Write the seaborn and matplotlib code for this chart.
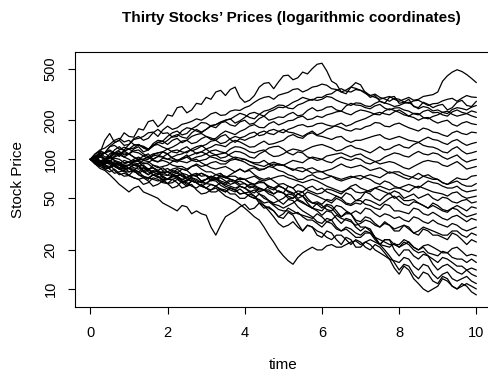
import numpy as np
import pandas as pd
import matplotlib
matplotlib.use("Agg")
import matplotlib.pyplot as plt
import seaborn as sns

# Sampling grid (years) shared by every price path
times = np.arange(81) * 0.125

# Price paths of the thirty stocks, one list per stock
s01 = [100, 98, 112, 140, 158, 135, 140, 160, 150, 148, 172, 168, 195, 200, 178, 192, 220, 215, 250, 255,
       228, 240, 270, 265, 300, 290, 330, 340, 310, 345, 360, 300, 275, 285, 310, 360, 385, 390, 350, 395,
       440, 445, 410, 425, 470, 455, 500, 540, 550, 480, 400, 380, 330, 320, 360, 390, 375, 325, 300, 310,
       280, 270, 300, 305, 270, 275, 290, 255, 250, 275, 265, 250, 260, 265, 240, 250, 275, 285, 260, 255, 280]
s02 = [100, 104, 95, 98, 110, 112, 105, 116, 120, 122, 130, 124, 118, 128, 135, 132, 140, 150, 155, 148,
       145, 160, 170, 162, 170, 182, 185, 194, 200, 205, 190, 198, 210, 225, 230, 222, 215, 232, 240, 252,
       250, 260, 275, 285, 300, 292, 285, 300, 300, 315, 320, 340, 350, 335, 330, 345, 340, 322, 310, 300,
       290, 298, 305, 290, 280, 290, 300, 285, 290, 305, 310, 315, 330, 400, 440, 470, 490, 475, 450, 420, 390]
s03 = [100, 102, 115, 112, 125, 128, 120, 118, 130, 142, 145, 150, 160, 162, 150, 168, 180, 170, 175, 186,
       190, 196, 205, 200, 210, 224, 230, 218, 220, 235, 240, 238, 250, 258, 275, 290, 300, 305, 290, 312,
       320, 328, 345, 350, 330, 342, 360, 366, 380, 372, 350, 345, 330, 342, 360, 352, 340, 330, 310, 318,
       300, 292, 280, 295, 290, 276, 270, 282, 285, 272, 260, 268, 270, 282, 290, 295, 280, 296, 310, 302, 300]
s04 = [100, 96, 108, 100, 96, 106, 112, 104, 110, 120, 125, 114, 118, 132, 140, 138, 150, 160, 165, 154,
       158, 172, 180, 192, 190, 180, 175, 190, 200, 204, 215, 226, 220, 210, 205, 222, 235, 240, 250, 262,
       260, 248, 245, 262, 270, 282, 290, 284, 290, 305, 300, 285, 275, 268, 260, 272, 270, 258, 255, 270,
       280, 272, 265, 255, 260, 270, 275, 258, 245, 255, 250, 236, 240, 230, 225, 242, 250, 246, 240, 252, 260]
s05 = [100, 110, 115, 112, 125, 134, 140, 128, 130, 144, 150, 140, 145, 160, 170, 158, 160, 148, 150, 166,
       175, 172, 165, 160, 170, 180, 185, 192, 195, 184, 180, 194, 200, 186, 190, 206, 215, 200, 205, 212,
       210, 222, 230, 216, 220, 238, 250, 236, 240, 252, 255, 240, 235, 258, 270, 262, 260, 250, 245, 258,
       265, 248, 240, 248, 250, 240, 235, 224, 220, 234, 240, 228, 230, 220, 215, 232, 240, 230, 225, 236, 230]
s06 = [100, 97, 92, 86, 85, 92, 95, 88, 90, 96, 100, 106, 110, 100, 105, 114, 120, 124, 130, 138,
       140, 132, 135, 144, 150, 142, 145, 156, 165, 160, 155, 164, 170, 180, 185, 176, 175, 188, 195, 184,
       190, 198, 200, 210, 215, 202, 205, 215, 210, 220, 225, 232, 235, 226, 220, 232, 240, 236, 230, 222,
       220, 236, 245, 238, 230, 220, 215, 226, 225, 210, 205, 214, 220, 230, 235, 222, 215, 220, 225, 216, 210]
s07 = [100, 106, 112, 104, 105, 118, 125, 116, 120, 128, 130, 122, 118, 126, 135, 138, 130, 140, 145, 134,
       140, 150, 155, 158, 150, 146, 140, 150, 155, 142, 135, 144, 140, 146, 150, 160, 165, 158, 155, 164,
       170, 162, 160, 155, 150, 158, 165, 154, 160, 170, 175, 184, 190, 180, 185, 194, 200, 206, 215, 225,
       230, 224, 220, 232, 240, 228, 215, 210, 200, 208, 210, 198, 190, 196, 200, 186, 180, 190, 195, 188, 185]
s08 = [100, 110, 118, 122, 130, 140, 145, 136, 140, 130, 128, 126, 120, 128, 130, 124, 120, 114, 112, 120,
       125, 116, 120, 126, 130, 138, 140, 132, 135, 144, 150, 146, 150, 158, 162, 152, 155, 166, 170, 164,
       160, 170, 175, 182, 185, 178, 180, 188, 190, 184, 180, 180, 175, 168, 165, 172, 170, 178, 182, 192,
       190, 180, 178, 186, 190, 182, 175, 170, 165, 174, 170, 162, 160, 154, 150, 160, 165, 158, 155, 162, 160]
s09 = [100, 96, 105, 112, 118, 112, 110, 116, 110, 104, 98, 100, 105, 98, 95, 102, 100, 104, 108, 110,
       115, 118, 110, 114, 120, 124, 130, 128, 125, 134, 140, 136, 130, 124, 125, 132, 138, 130, 132, 136,
       140, 150, 155, 148, 145, 156, 160, 152, 150, 146, 142, 148, 150, 140, 135, 140, 140, 144, 148, 152,
       155, 146, 142, 146, 150, 145, 140, 138, 135, 142, 148, 142, 140, 134, 130, 138, 142, 134, 128, 132, 135]
s10 = [100, 102, 95, 90, 88, 94, 92, 86, 90, 95, 98, 92, 94, 100, 105, 104, 100, 98, 95, 102,
       108, 100, 104, 106, 110, 116, 118, 114, 112, 120, 125, 124, 120, 114, 112, 116, 118, 110, 105, 106,
       110, 116, 120, 118, 115, 120, 125, 128, 130, 126, 122, 116, 118, 124, 128, 122, 120, 116, 112, 118,
       125, 118, 120, 126, 130, 124, 122, 130, 135, 128, 125, 124, 120, 114, 112, 120, 125, 116, 110, 112, 115]
s11 = [100, 106, 108, 100, 102, 110, 115, 108, 110, 116, 118, 110, 105, 110, 112, 114, 110, 102, 98, 102,
       104, 98, 96, 98, 100, 106, 108, 102, 104, 110, 115, 114, 110, 104, 102, 110, 115, 122, 125, 126,
       120, 112, 108, 114, 112, 104, 102, 98, 100, 96, 94, 100, 104, 100, 98, 102, 100, 94, 92, 96,
       98, 104, 108, 112, 110, 106, 104, 110, 115, 110, 108, 112, 110, 104, 100, 104, 108, 100, 95, 98, 100]
s12 = [100, 96, 94, 100, 102, 104, 108, 104, 100, 94, 92, 98, 96, 90, 86, 88, 90, 96, 98, 100,
       104, 108, 112, 114, 110, 104, 102, 98, 96, 100, 104, 102, 100, 96, 92, 90, 88, 92, 95, 92,
       90, 94, 98, 96, 94, 100, 104, 102, 100, 106, 108, 110, 112, 108, 104, 108, 110, 104, 100, 96,
       92, 94, 96, 94, 90, 86, 84, 88, 92, 96, 98, 96, 95, 90, 88, 92, 96, 90, 84, 86, 88]
s13 = [100, 104, 110, 112, 104, 112, 118, 124, 120, 114, 112, 106, 102, 106, 108, 104, 110, 116, 118, 114,
       112, 120, 125, 128, 120, 112, 108, 110, 112, 106, 102, 98, 100, 96, 94, 94, 98, 92, 88, 92,
       90, 86, 84, 82, 80, 84, 86, 82, 80, 82, 84, 88, 92, 88, 86, 88, 90, 86, 82, 84,
       86, 82, 78, 80, 80, 76, 74, 72, 70, 74, 76, 72, 70, 66, 64, 68, 72, 70, 70, 74, 75]
s14 = [100, 98, 92, 94, 98, 92, 90, 92, 95, 100, 104, 98, 100, 108, 112, 114, 110, 102, 98, 96,
       94, 98, 100, 94, 90, 86, 84, 86, 88, 84, 80, 84, 80, 84, 86, 82, 84, 88, 92, 90,
       90, 86, 82, 86, 86, 82, 78, 80, 80, 76, 74, 72, 70, 72, 74, 72, 70, 74, 76, 74,
       72, 76, 80, 78, 75, 72, 70, 74, 78, 74, 72, 70, 70, 66, 64, 66, 68, 64, 62, 62, 65]
s15 = [100, 94, 90, 96, 95, 88, 84, 82, 85, 80, 78, 82, 84, 80, 76, 80, 80, 84, 86, 84,
       82, 88, 92, 88, 90, 94, 96, 92, 92, 98, 100, 98, 95, 90, 88, 84, 84, 88, 86, 82,
       80, 76, 74, 70, 70, 74, 76, 72, 70, 72, 74, 70, 68, 70, 72, 74, 75, 72, 70, 66,
       64, 68, 66, 62, 60, 62, 64, 62, 60, 64, 68, 66, 65, 62, 60, 60, 62, 58, 56, 57, 58]
s16 = [100, 104, 106, 112, 115, 110, 108, 112, 110, 104, 100, 100, 104, 98, 96, 98, 95, 90, 88, 88,
       84, 88, 90, 84, 80, 80, 76, 74, 72, 74, 74, 70, 70, 72, 74, 70, 68, 70, 72, 74,
       75, 72, 70, 68, 66, 68, 70, 68, 65, 62, 60, 58, 56, 58, 60, 56, 55, 56, 58, 60,
       62, 60, 58, 60, 60, 58, 56, 60, 62, 60, 58, 56, 55, 54, 52, 55, 56, 52, 50, 51, 52]
s17 = [100, 102, 96, 92, 104, 98, 92, 98, 95, 90, 88, 90, 84, 86, 82, 78, 80, 76, 74, 78,
       76, 72, 68, 66, 70, 72, 76, 78, 72, 76, 80, 84, 80, 82, 76, 72, 70, 72, 68, 64,
       65, 62, 60, 64, 62, 58, 56, 54, 55, 59, 58, 56, 54, 58, 62, 64, 60, 58, 56, 60,
       58, 56, 54, 57, 55, 50, 52, 54, 50, 52, 54, 50, 48, 51, 50, 47, 46, 48, 49, 46, 47]
s18 = [100, 95, 92, 84, 86, 92, 90, 84, 85, 92, 90, 80, 82, 90, 88, 82, 85, 80, 78, 84,
       82, 76, 74, 78, 75, 68, 70, 72, 68, 64, 66, 68, 65, 62, 60, 56, 58, 58, 54, 57,
       55, 62, 60, 54, 56, 60, 62, 58, 60, 56, 54, 52, 50, 55, 53, 48, 50, 56, 54, 50,
       48, 52, 55, 50, 52, 48, 48, 49, 46, 44, 42, 46, 44, 41, 40, 42, 44, 42, 40, 43, 42]
s19 = [100, 92, 88, 84, 80, 84, 78, 74, 75, 72, 70, 64, 66, 72, 70, 66, 65, 70, 72, 70,
       68, 74, 76, 78, 75, 72, 70, 76, 74, 70, 68, 72, 70, 66, 64, 68, 66, 60, 58, 62,
       60, 57, 55, 50, 52, 56, 54, 52, 50, 48, 46, 50, 48, 45, 44, 46, 45, 49, 48, 46,
       44, 47, 50, 52, 48, 45, 44, 47, 46, 44, 42, 44, 42, 40, 39, 42, 41, 38, 36, 37, 38]
s20 = [100, 98, 104, 100, 96, 102, 100, 94, 95, 90, 88, 94, 92, 86, 82, 86, 80, 78, 84, 78,
       72, 76, 74, 68, 70, 74, 72, 66, 64, 68, 66, 62, 60, 64, 63, 60, 58, 56, 54, 57,
       55, 52, 50, 54, 52, 48, 46, 47, 45, 49, 48, 52, 50, 46, 45, 48, 48, 45, 44, 42,
       41, 45, 44, 40, 40, 39, 38, 42, 41, 38, 37, 39, 37, 35, 34, 36, 37, 35, 33, 35, 34]
s21 = [100, 102, 94, 92, 98, 90, 86, 90, 85, 82, 88, 80, 76, 82, 80, 72, 70, 76, 74, 68,
       64, 68, 66, 62, 60, 64, 62, 58, 56, 60, 58, 54, 55, 52, 50, 54, 52, 48, 45, 44,
       42, 44, 46, 49, 47, 44, 42, 46, 44, 41, 40, 44, 43, 40, 38, 40, 38, 42, 41, 38,
       36, 38, 37, 35, 36, 34, 33, 36, 35, 33, 32, 34, 32, 31, 30, 32, 31, 29, 28, 29, 30]
s22 = [100, 92, 85, 82, 76, 70, 64, 60, 56, 60, 62, 56, 54, 52, 50, 46, 44, 42, 40, 44,
       43, 38, 40, 38, 37, 30, 26, 31, 36, 38, 40, 43, 45, 41, 42, 46, 44, 42, 40, 36,
       38, 42, 40, 38, 37, 36, 35, 38, 36, 33, 34, 37, 35, 34, 33, 31, 32, 34, 33, 31,
       30, 32, 31, 29, 30, 31, 29, 27, 28, 30, 29, 28, 27, 26, 26, 28, 28, 26, 25, 27, 26]
s23 = [100, 104, 96, 102, 104, 98, 95, 90, 90, 98, 96, 88, 84, 86, 80, 76, 75, 82, 80, 74,
       70, 68, 66, 62, 65, 70, 70, 66, 62, 60, 58, 62, 60, 57, 55, 60, 58, 54, 52, 48,
       50, 54, 53, 48, 46, 44, 42, 41, 40, 44, 42, 38, 36, 39, 38, 34, 33, 36, 35, 32,
       30, 33, 31, 28, 28, 31, 30, 27, 26, 29, 28, 26, 26, 25, 24, 27, 26, 24, 22, 24, 23]
s24 = [100, 96, 90, 96, 94, 88, 84, 86, 80, 82, 76, 74, 72, 70, 68, 70, 65, 66, 70, 66,
       62, 64, 58, 54, 55, 58, 60, 56, 52, 50, 48, 45, 42, 39, 36, 34, 30, 26, 23, 20,
       18, 16.5, 15.5, 17.5, 19, 20, 21, 20, 20, 21.5, 22, 21, 21, 22, 23, 23.5, 22, 23, 24, 23,
       22, 21.5, 21, 22.5, 21, 22, 23, 21, 20, 21.5, 22, 21, 20, 19, 19, 20.5, 21, 19.5, 18, 18.5, 18]
s25 = [100, 98, 94, 88, 86, 90, 92, 86, 85, 84, 80, 86, 84, 76, 72, 74, 70, 73, 75, 76,
       72, 70, 66, 68, 65, 69, 68, 63, 60, 58, 56, 59, 55, 56, 58, 54, 50, 48, 46, 48,
       45, 49, 48, 43, 40, 38, 36, 33, 32, 35, 34, 30, 28, 29, 27, 25, 25, 27, 27, 24,
       22, 24, 24, 22, 22, 24, 23, 21, 20, 21, 19, 18.5, 18, 19.5, 19, 17.5, 17, 17, 16, 17, 16]
s26 = [100, 94, 90, 92, 84, 78, 80, 82, 75, 72, 70, 72, 68, 62, 64, 68, 65, 60, 62, 68,
       66, 62, 60, 64, 60, 58, 62, 59, 56, 60, 58, 54, 55, 52, 50, 49, 46, 47, 44, 41,
       40, 40, 38, 39, 36, 34, 34, 32, 30, 33, 32, 29, 28, 30, 29, 27, 26, 28, 27, 25,
       24, 23, 22, 22, 21, 23, 22, 20, 19, 19.5, 18, 17, 16, 17.5, 17, 16, 15, 15, 14, 14.5, 14]
s27 = [100, 104, 98, 94, 92, 96, 94, 88, 90, 86, 84, 86, 80, 76, 78, 80, 75, 76, 78, 74,
       72, 76, 74, 68, 70, 74, 72, 68, 66, 70, 68, 64, 65, 60, 62, 58, 58, 62, 60, 56,
       55, 50, 50, 54, 52, 46, 42, 40, 37, 40, 39, 35, 32, 35, 34, 30, 28, 30, 29, 25,
       22, 24, 24, 20, 18, 20, 20, 18, 17, 18.5, 18, 15.5, 14, 15, 15.5, 14.5, 13.5, 13, 14, 13, 12.5]
s28 = [100, 98, 92, 88, 86, 90, 84, 80, 80, 82, 76, 72, 72, 76, 74, 70, 70, 74, 72, 66,
       68, 72, 70, 66, 65, 64, 62, 66, 64, 62, 60, 62, 60, 56, 52, 48, 44, 40, 36, 32,
       30, 31, 33, 30, 28, 31, 30, 28, 27, 25, 24, 26, 26, 24, 22, 24, 23, 21, 20, 22,
       21, 19, 17, 16.5, 16, 17.5, 17, 15, 14, 15.5, 15, 13, 12, 13, 13.5, 12, 11.5, 12, 12.5, 11.5, 11]
s29 = [100, 96, 94, 98, 98, 92, 86, 84, 85, 90, 90, 82, 76, 80, 80, 74, 70, 74, 74, 70,
       72, 76, 78, 74, 75, 72, 70, 74, 72, 70, 68, 71, 70, 66, 64, 66, 66, 62, 60, 63,
       60, 56, 54, 57, 56, 50, 46, 45, 42, 45, 44, 40, 36, 38, 38, 33, 30, 30, 28, 25,
       22, 20, 18, 16, 14, 15.5, 15, 13, 12, 13.5, 13, 11.5, 11, 12.5, 12, 10.5, 10, 10.5, 11, 10.5, 10]
s30 = [100, 92, 88, 94, 92, 82, 76, 78, 75, 82, 80, 74, 70, 76, 74, 68, 70, 70, 66, 60,
       62, 68, 66, 62, 60, 56, 56, 59, 58, 54, 54, 50, 50, 54, 52, 46, 42, 43, 40, 36,
       35, 39, 37, 32, 28, 31, 30, 26, 25, 28, 27, 24, 22, 25, 24, 21, 21, 23, 22, 20,
       19, 18, 17, 14.5, 13, 15, 14, 12, 11, 10, 9.5, 10, 10.5, 12, 11.5, 10.5, 10, 11, 10.5, 9.5, 9]

stock_paths = [s01, s02, s03, s04, s05, s06, s07, s08, s09, s10,
               s11, s12, s13, s14, s15, s16, s17, s18, s19, s20,
               s21, s22, s23, s24, s25, s26, s27, s28, s29, s30]

y_ticks = [10, 20, 50, 100, 200, 500]
x_ticks = [0, 2, 4, 6, 8, 10]

sns.set_theme(style="ticks")
plt.rcParams["font.family"] = ["Liberation Sans", "DejaVu Sans"]
plt.rcParams["text.color"] = "black"

df = pd.DataFrame({
    "time": np.tile(times, len(stock_paths)),
    "price": np.concatenate([np.asarray(p, dtype=float) for p in stock_paths]),
    "stock": np.repeat(np.arange(1, len(stock_paths) + 1), len(times)),
})

W, H = 489, 379
fig = plt.figure(figsize=(W / 100, H / 100), dpi=100)
fig.patch.set_facecolor("white")
# plot region in pixels: left 74.9, right 491.8 (past the canvas edge), top 52, bottom 307
ax = fig.add_axes([74.9 / W, 1 - 307 / H, (491.8 - 74.9) / W, (307 - 52) / H])

sns.lineplot(data=df, x="time", y="price", units="stock", estimator=None,
             color="black", lw=0.9, sort=False, legend=False, ax=ax)

ax.set_yscale("log")
ax.set_xlim(-0.4, 10.4)
ax.set_ylim(10 ** 0.861, 10 ** 2.827)
ax.set_xticks(x_ticks)
ax.set_xticklabels([str(v) for v in x_ticks])
ax.set_yticks(y_ticks)
ax.set_yticklabels([str(v) for v in y_ticks])
ax.yaxis.set_minor_locator(matplotlib.ticker.NullLocator())

for side in ["left", "right", "top", "bottom"]:
    ax.spines[side].set_visible(True)
    ax.spines[side].set_color("black")
    ax.spines[side].set_linewidth(0.8)

ax.tick_params(axis="both", direction="out", length=5, width=0.8, color="black",
               labelsize=10.5, labelcolor="black")
ax.tick_params(axis="x", pad=8.6)
ax.tick_params(axis="y", pad=7.5, labelrotation=90)
for lab in ax.get_yticklabels():
    lab.set_verticalalignment("center")
    lab.set_horizontalalignment("right")

ax.set_xlabel("")
ax.set_ylabel("")
fig.text(283 / W, 1 - 365 / H, "time", ha="center", va="center", fontsize=11, color="black")
fig.text(18 / W, 1 - 179.5 / H, "Stock Price", ha="center", va="center",
         rotation=90, fontsize=11, color="black")
fig.text(291 / W, 1 - 18 / H, "Thirty Stocks’ Prices (logarithmic coordinates)",
         ha="center", va="center", fontsize=11, fontweight="bold", color="black")

fig.savefig("out.png", dpi=100, facecolor="white")
